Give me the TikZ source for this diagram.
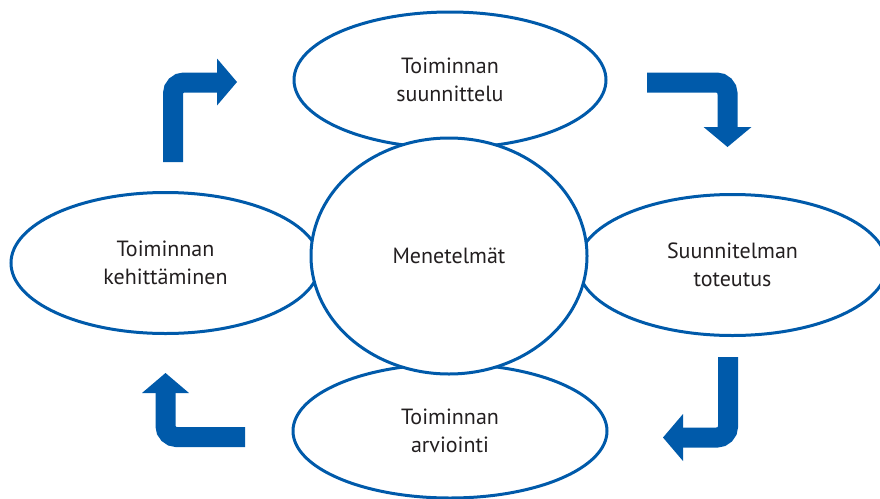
\documentclass[tikz,border=0pt]{standalone}
\usepackage{fontspec}
\setmainfont{PT Sans}
\usetikzlibrary{shapes.geometric}
\definecolor{cycleblue}{RGB}{0,90,170}
\definecolor{txtgray}{RGB}{35,31,32}
\tikzset{
  oval/.style={ellipse, draw=cycleblue, line width=3pt, inner sep=0pt,
    align=center, text=txtgray, font=\fontsize{22}{27.5}\selectfont},
  arrowbody/.style={draw=cycleblue, line width=20pt, rounded corners=11pt},
  arrowhead/.style={fill=cycleblue},
}
\begin{document}
\begin{tikzpicture}[x=1pt,y=-1pt]
\useasboundingbox (0,0) rectangle (880,498);
\clip (0,0) rectangle (880,498);
\node[oval, minimum width=312pt, minimum height=136pt] (plan) at (450,80) {Toiminnan\\suunnittelu};
\node[oval, minimum width=309pt, minimum height=141pt] (dev) at (165.5,263) {Toiminnan\\kehittäminen};
\node[oval, minimum width=309pt, minimum height=141pt] (impl) at (732.5,265) {Suunnitelman\\toteutus};
\node[oval, minimum width=314pt, minimum height=134pt] (eval) at (450,431) {Toiminnan\\arviointi};
\node[oval, fill=white, minimum width=276pt, minimum height=236pt] (meth) at (449,256) {Menetelmät};
% arrows
\draw[arrowbody] (173,162) -- (173,82.5) -- (218,82.5);
\fill[arrowhead] (217,58.5) -- (237,82) -- (217,105.5) -- cycle;
\draw[arrowbody] (647,82.5) -- (727.5,82.5) -- (727.5,128);
\fill[arrowhead] (703.5,127) -- (751.5,127) -- (727.5,147) -- cycle;
\draw[arrowbody] (728,357) -- (728,437.5) -- (682,437.5);
\fill[arrowhead] (683,414) -- (683,461) -- (663,437.5) -- cycle;
\draw[arrowbody] (245,437) -- (165.5,437) -- (165.5,392);
\fill[arrowhead] (142,393) -- (189,393) -- (165.5,373) -- cycle;
\end{tikzpicture}
\end{document}
